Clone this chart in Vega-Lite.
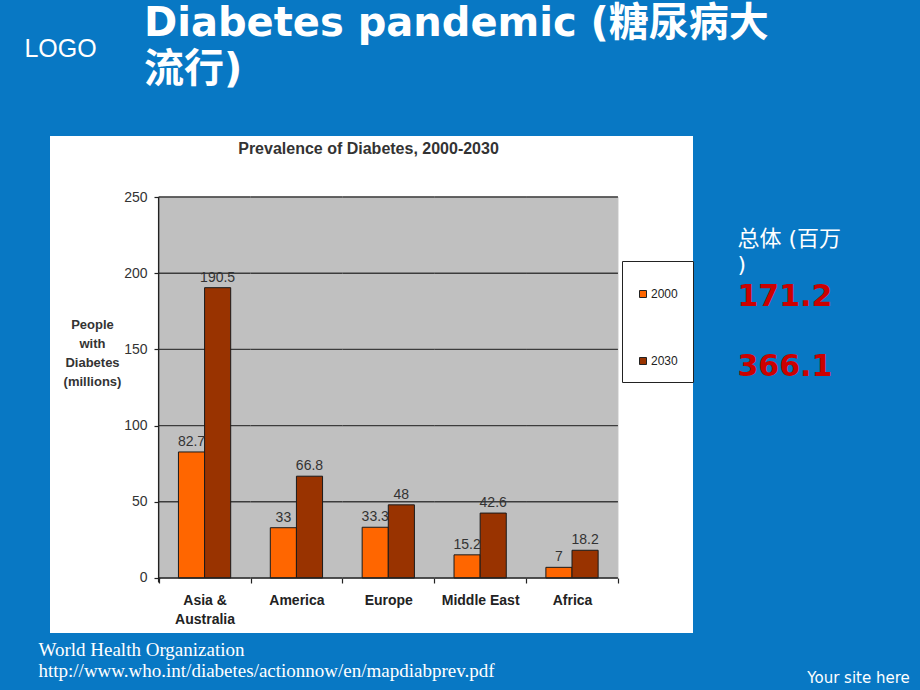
{
  "$schema": "https://vega.github.io/schema/vega-lite/v6.json",
  "width": 643,
  "height": 497,
  "autosize": {"type": "none"},
  "padding": {"left": 50, "top": 136, "right": 227, "bottom": 57},
  "background": "#0878c4",
  "title": {
    "text": ["Diabetes pandemic (糖尿病大", "流行)"],
    "anchor": "start",
    "frame": "group",
    "dx": 94,
    "offset": -54,
    "font": "DejaVu Sans, Noto Sans CJK SC",
    "fontSize": 40,
    "fontWeight": "bold",
    "color": "white",
    "lineHeight": 46
  },
  "data": {
    "values": [
      {"region": "Asia & Australia", "year": "2000", "value": 82.7},
      {"region": "Asia & Australia", "year": "2030", "value": 190.5},
      {"region": "America", "year": "2000", "value": 33},
      {"region": "America", "year": "2030", "value": 66.8},
      {"region": "Europe", "year": "2000", "value": 33.3},
      {"region": "Europe", "year": "2030", "value": 48},
      {"region": "Middle East", "year": "2000", "value": 15.2},
      {"region": "Middle East", "year": "2030", "value": 42.6},
      {"region": "Africa", "year": "2000", "value": 7},
      {"region": "Africa", "year": "2030", "value": 18.2}
    ]
  },
  "layer": [
    {
      "encoding": {
        "x": {
          "field": "region",
          "type": "nominal",
          "sort": ["Asia & Australia", "America", "Europe", "Middle East", "Africa"],
          "scale": {"paddingInner": 0, "paddingOuter": 1.0175, "align": 0.5914},
          "axis": {
            "offset": -55,
            "domain": false,
            "grid": false,
            "tickBand": "extent",
            "tickSize": 5,
            "tickColor": "#222222",
            "tickWidth": 1.2,
            "labelAngle": 0,
            "labelPadding": 10,
            "labelFontSize": 14,
            "labelFontWeight": "bold",
            "labelColor": "#222222",
            "labelFont": "Liberation Sans",
            "labelLineHeight": 19,
            "labelExpr": "datum.label == 'Asia & Australia' ? ['Asia &', 'Australia'] : datum.label",
            "title": ["World Health Organization", "http://www.who.int/diabetes/actionnow/en/mapdiabprev.pdf"],
            "titleX": -12,
            "titleY": 71,
            "titleAlign": "left",
            "titleAnchor": "start",
            "titleBaseline": "middle",
            "titleFont": "Liberation Serif",
            "titleFontSize": 19,
            "titleFontWeight": "normal",
            "titleColor": "white",
            "titleLineHeight": 21
          }
        }
      },
      "layer": [
        {
          "transform": [{"filter": "datum.year == '2000'"}],
          "mark": {"type": "rect", "fill": "#c0c0c0", "stroke": "#c0c0c0", "strokeWidth": 1},
          "encoding": {"y": {"datum": 0}, "y2": {"datum": 250}}
        },
        {
          "transform": [{"filter": "datum.year == '2000'"}],
          "mark": {"type": "rect", "fill": null, "stroke": "#3c3c3c", "strokeWidth": 1.4},
          "encoding": {"y": {"datum": 50}, "y2": {"datum": 50}}
        },
        {
          "transform": [{"filter": "datum.year == '2000'"}],
          "mark": {"type": "rect", "fill": null, "stroke": "#3c3c3c", "strokeWidth": 1.4},
          "encoding": {"y": {"datum": 100}, "y2": {"datum": 100}}
        },
        {
          "transform": [{"filter": "datum.year == '2000'"}],
          "mark": {"type": "rect", "fill": null, "stroke": "#3c3c3c", "strokeWidth": 1.4},
          "encoding": {"y": {"datum": 150}, "y2": {"datum": 150}}
        },
        {
          "transform": [{"filter": "datum.year == '2000'"}],
          "mark": {"type": "rect", "fill": null, "stroke": "#3c3c3c", "strokeWidth": 1.4},
          "encoding": {"y": {"datum": 200}, "y2": {"datum": 200}}
        },
        {
          "transform": [{"filter": "datum.year == '2000'"}],
          "mark": {"type": "rect", "fill": null, "stroke": "#3c3c3c", "strokeWidth": 1.4},
          "encoding": {"y": {"datum": 250}, "y2": {"datum": 250}}
        },
        {
          "mark": {"type": "bar", "stroke": "#1a1a1a", "strokeWidth": 1},
          "encoding": {
            "xOffset": {"field": "year", "type": "nominal", "scale": {"paddingInner": 0, "paddingOuter": 0.758}},
            "y": {
              "field": "value",
              "type": "quantitative",
              "scale": {"domain": [-36.09, 290.03], "nice": false, "zero": false},
              "axis": {
                "offset": -110,
                "values": [0, 50, 100, 150, 200, 250],
                "domain": false,
                "grid": false,
                "tickSize": 6,
                "tickColor": "#222222",
                "tickWidth": 1.2,
                "labelPadding": 7,
                "labelFontSize": 14,
                "labelColor": "#333333",
                "labelFont": "Liberation Sans",
                "title": ["People", "with", "Diabetes", "(millions)"],
                "titleAngle": 0,
                "titleX": -68,
                "titleY": 188,
                "titleAlign": "center",
                "titleBaseline": "middle",
                "titleFontSize": 13,
                "titleFontWeight": "bold",
                "titleColor": "#333333",
                "titleLineHeight": 19.3,
                "titleFont": "Liberation Sans"
              }
            },
            "y2": {"datum": 0},
            "color": {
              "field": "year",
              "type": "nominal",
              "scale": {"domain": ["2000", "2030"], "range": ["#ff6600", "#993300"]},
              "legend": {
                "orient": "none",
                "legendX": 572,
                "legendY": 125,
                "title": " ",
                "titleFontSize": 9,
                "titlePadding": 3,
                "fillColor": "white",
                "strokeColor": "#222222",
                "padding": 15,
                "symbolType": "square",
                "symbolSize": 49,
                "symbolStrokeColor": "#222222",
                "symbolStrokeWidth": 1,
                "labelFontSize": 12,
                "labelColor": "#222222",
                "labelFont": "Liberation Sans",
                "labelOffset": 2,
                "rowPadding": 55
              }
            }
          }
        },
        {
          "transform": [{"filter": "datum.year == '2000'"}],
          "mark": {"type": "rect", "fill": null, "stroke": "#222222", "strokeWidth": 1.4},
          "encoding": {"y": {"datum": 0}, "y2": {"datum": 0}}
        },
        {
          "transform": [{"filter": "datum.year == '2000' && datum.region == 'Asia & Australia'"}],
          "mark": {"type": "rule", "color": "#222222", "strokeWidth": 1.4},
          "encoding": {
            "x": {
              "field": "region",
              "type": "nominal",
              "sort": ["Asia & Australia", "America", "Europe", "Middle East", "Africa"],
              "bandPosition": 0
            },
            "y": {"datum": -3},
            "y2": {"datum": 250}
          }
        },
        {
          "mark": {"type": "text", "baseline": "bottom", "dy": -3, "fontSize": 14, "color": "#333333", "font": "Liberation Sans"},
          "encoding": {
            "xOffset": {"field": "year", "type": "nominal"},
            "y": {"field": "value", "type": "quantitative"},
            "text": {"field": "value", "type": "quantitative"}
          }
        }
      ]
    },
    {
      "transform": [{"aggregate": [{"op": "sum", "field": "value", "as": "total"}], "groupby": ["year"]}],
      "mark": {"type": "point", "opacity": 0},
      "encoding": {
        "x": {
          "field": "year",
          "type": "nominal",
          "axis": {
            "orient": "top",
            "labels": false,
            "ticks": false,
            "domain": false,
            "grid": false,
            "title": "Prevalence of Diabetes, 2000-2030",
            "titleX": 318,
            "titleY": 12,
            "titleAlign": "center",
            "titleBaseline": "middle",
            "titleFontSize": 16,
            "titleFontWeight": "bold",
            "titleColor": "#333333",
            "titleFont": "Liberation Sans"
          }
        },
        "y": {
          "field": "total",
          "type": "quantitative",
          "scale": {"domain": [-274.3, 1109.5], "reverse": true, "nice": false, "zero": false},
          "axis": {
            "orient": "right",
            "values": [171.2, 366.1],
            "format": ".1f",
            "ticks": false,
            "domain": false,
            "grid": false,
            "labelColor": "#cc0000",
            "labelFontSize": 30,
            "labelFontWeight": "bold",
            "labelFont": "DejaVu Sans",
            "labelPadding": 44,
            "labelAlign": "left",
            "labelBaseline": "middle",
            "labelOverlap": false,
            "title": ["总体 (百万", ")"],
            "titleAngle": 0,
            "titleX": 44,
            "titleY": 92,
            "titleAlign": "left",
            "titleBaseline": "top",
            "titleFontSize": 22,
            "titleFontWeight": "normal",
            "titleColor": "white",
            "titleLineHeight": 26,
            "titleFont": "DejaVu Sans, Noto Sans CJK SC"
          }
        }
      }
    },
    {
      "mark": {"type": "point", "opacity": 0},
      "encoding": {
        "x": {
          "field": "year",
          "type": "nominal",
          "axis": {
            "orient": "bottom",
            "labels": false,
            "ticks": false,
            "domain": false,
            "grid": false,
            "title": "Your site here",
            "titleX": 808,
            "titleY": 44,
            "titleAlign": "center",
            "titleBaseline": "middle",
            "titleFontSize": 15,
            "titleFontWeight": "normal",
            "titleColor": "white",
            "titleFont": "DejaVu Sans"
          }
        },
        "y": {
          "field": "year",
          "type": "nominal",
          "axis": {
            "orient": "left",
            "labels": false,
            "ticks": false,
            "domain": false,
            "grid": false,
            "title": "LOGO",
            "titleAngle": 0,
            "titleX": 10,
            "titleY": -88,
            "titleAlign": "center",
            "titleBaseline": "middle",
            "titleFontSize": 25,
            "titleFontWeight": "normal",
            "titleColor": "white",
            "titleFont": "Liberation Sans"
          }
        }
      }
    }
  ],
  "resolve": {"scale": {"x": "independent", "y": "independent"}},
  "config": {
    "view": {"fill": "white", "stroke": null}
  }
}
